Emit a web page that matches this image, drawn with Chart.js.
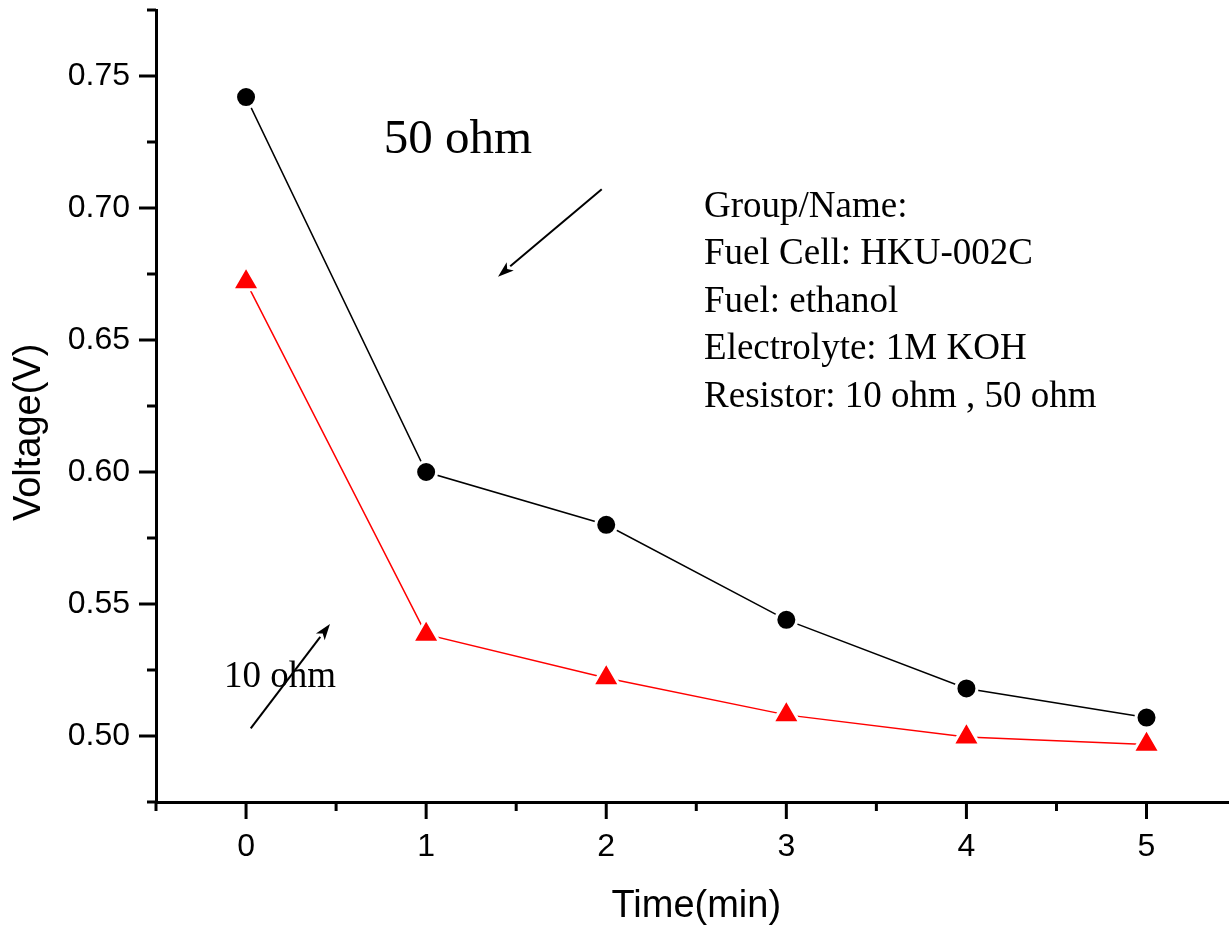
<!DOCTYPE html>
<html>
<head>
<meta charset="utf-8">
<script src="https://cdn.jsdelivr.net/npm/chart.js@4.4.1/dist/chart.umd.min.js"></script>
<style>
  html, body { margin: 0; padding: 0; background: #fff; overflow: hidden; }
</style>
</head>
<body>
<canvas id="chart" width="1229" height="932"></canvas>
<script>
// Data
const times = [0, 1, 2, 3, 4, 5];
const volt50ohm = [0.742, 0.600, 0.580, 0.544, 0.518, 0.507];
const volt10ohm = [0.672, 0.5385, 0.522, 0.508, 0.4996, 0.4968];
const xRange = [-0.5, 5.458];
const yRange = [0.475, 0.775];
const xTitle = "Time(min)";
const yTitle = "Voltage(V)";
const infoLines = [
  "Group/Name:",
  "Fuel Cell: HKU-002C",
  "Fuel: ethanol",
  "Electrolyte: 1M KOH",
  "Resistor: 10 ohm , 50 ohm"
];

const SANS = '"Liberation Sans", Arial, sans-serif';
const SERIF = '"Liberation Serif", "Times New Roman", serif';

const isWhole = (v, step) => Math.abs(v / step - Math.round(v / step)) < 1e-6;

// no automatic padding, so the plot area fills the canvas like the original
const fixPadding = s => { s.paddingTop = 0; s.paddingBottom = 0; s.paddingLeft = 0; s.paddingRight = 0; };

// Origin-style tick marks, axis titles, arrows and free text
const decor = {
  id: 'decor',
  afterDraw(chart, args, opts) {
    const { ctx, scales: { x, y } } = chart;
    ctx.save();
    ctx.strokeStyle = '#000';
    ctx.lineWidth = 3;

    x.ticks.forEach(t => {
      const px = x.getPixelForValue(t.value);
      const len = isWhole(t.value, 1) ? 17 : 9;
      ctx.beginPath();
      ctx.moveTo(px, x.top);
      ctx.lineTo(px, x.top + len);
      ctx.stroke();
    });
    y.ticks.forEach(t => {
      const py = y.getPixelForValue(t.value);
      const len = isWhole(t.value, 0.05) ? 17 : 9;
      ctx.beginPath();
      ctx.moveTo(y.right, py);
      ctx.lineTo(y.right - len, py);
      ctx.stroke();
    });

    // axis titles
    ctx.fillStyle = '#000';
    ctx.font = '38px ' + SANS;
    ctx.textAlign = 'center';
    ctx.textBaseline = 'middle';
    ctx.fillText(xTitle, x.getPixelForValue(opts.xTitleAt), opts.xTitleY);
    ctx.save();
    ctx.translate(opts.yTitleX, y.getPixelForValue(opts.yTitleAt));
    ctx.rotate(-Math.PI / 2);
    ctx.fillText(yTitle, 0, 0);
    ctx.restore();

    ctx.textBaseline = 'alphabetic';
    ctx.textAlign = 'left';
    opts.labels.forEach(l => {
      ctx.font = l.size + 'px ' + SERIF;
      ctx.fillText(l.text, x.getPixelForValue(l.at[0]), y.getPixelForValue(l.at[1]));
    });
    ctx.font = opts.info.size + 'px ' + SERIF;
    const ix = x.getPixelForValue(opts.info.at[0]);
    const iy = y.getPixelForValue(opts.info.at[1]);
    opts.info.lines.forEach((line, i) => ctx.fillText(line, ix, iy + i * opts.info.step));

    ctx.lineWidth = 2;
    opts.arrows.forEach(a => {
      const x1 = x.getPixelForValue(a.from[0]), y1 = y.getPixelForValue(a.from[1]);
      const x2 = x.getPixelForValue(a.to[0]), y2 = y.getPixelForValue(a.to[1]);
      const ang = Math.atan2(y2 - y1, x2 - x1);
      const hl = 16, hw = 5.5;
      const bx = x2 - Math.cos(ang) * hl, by = y2 - Math.sin(ang) * hl;
      ctx.beginPath();
      ctx.moveTo(x1, y1);
      ctx.lineTo(bx, by);
      ctx.stroke();
      ctx.beginPath();
      ctx.moveTo(x2, y2);
      ctx.lineTo(bx + Math.sin(ang) * hw, by - Math.cos(ang) * hw);
      ctx.lineTo(bx + Math.cos(ang) * 4, by + Math.sin(ang) * 4);
      ctx.lineTo(bx - Math.sin(ang) * hw, by + Math.cos(ang) * hw);
      ctx.closePath();
      ctx.fill();
    });
    ctx.restore();
  }
};

const toPoints = vals => times.map((t, i) => ({ x: t, y: vals[i] }));

new Chart(document.getElementById('chart'), {
  type: 'line',
  data: {
    datasets: [
      {
        label: '50 ohm',
        data: toPoints(volt50ohm),
        borderColor: '#000',
        borderWidth: 1.5,
        pointStyle: 'circle',
        pointRadius: 10.5,
        pointBorderWidth: 3,
        pointBorderColor: '#fff',
        pointBackgroundColor: '#000',
        tension: 0,
        clip: false
      },
      {
        label: '10 ohm',
        data: toPoints(volt10ohm),
        borderColor: '#ff0000',
        borderWidth: 1.5,
        pointStyle: 'triangle',
        pointRadius: 15.7,
        pointBorderWidth: 3,
        pointBorderColor: '#fff',
        pointBackgroundColor: '#ff0000',
        tension: 0,
        clip: false
      }
    ]
  },
  options: {
    responsive: false,
    animation: false,
    events: [],
    layout: { autoPadding: false, padding: { top: 10, right: 0, bottom: 0, left: 0 } },
    plugins: {
      legend: { display: false },
      tooltip: { enabled: false },
      decor: {
        xTitleAt: 2.5,
        xTitleY: 907,
        yTitleAt: 0.615,
        yTitleX: 30,
        labels: [
          { text: '50 ohm', at: [0.764, 0.7208], size: 49 },
          { text: '10 ohm', at: [-0.122, 0.5186], size: 37 }
        ],
        info: { lines: infoLines, at: [2.543, 0.6966], size: 37, step: 47.5 },
        arrows: [
          { from: [1.975, 0.7071], to: [1.399, 0.674] },
          { from: [0.026, 0.5029], to: [0.466, 0.5424] }
        ]
      }
    },
    scales: {
      x: {
        type: 'linear',
        min: xRange[0],
        max: xRange[1],
        grid: { display: false },
        border: { display: true, color: '#000', width: 3 },
        ticks: {
          stepSize: 0.5,
          includeBounds: false,
          autoSkip: false,
          maxRotation: 0,
          padding: 18,
          color: '#000',
          font: { family: SANS, size: 32 },
          callback: v => isWhole(v, 1) ? String(Math.round(v)) : ''
        },
        title: { display: false },
        afterFit: s => { s.height = 130; fixPadding(s); }
      },
      y: {
        type: 'linear',
        min: yRange[0],
        max: yRange[1],
        grid: { display: false },
        border: { display: true, color: '#000', width: 3 },
        ticks: {
          stepSize: 0.025,
          includeBounds: false,
          autoSkip: false,
          padding: 18,
          color: '#000',
          font: { family: SANS, size: 32 },
          callback: v => isWhole(v, 0.05) ? v.toFixed(2) : ''
        },
        title: { display: false },
        afterFit: s => { s.width = 156; fixPadding(s); }
      }
    }
  },
  plugins: [decor]
});
</script>
</body>
</html>
